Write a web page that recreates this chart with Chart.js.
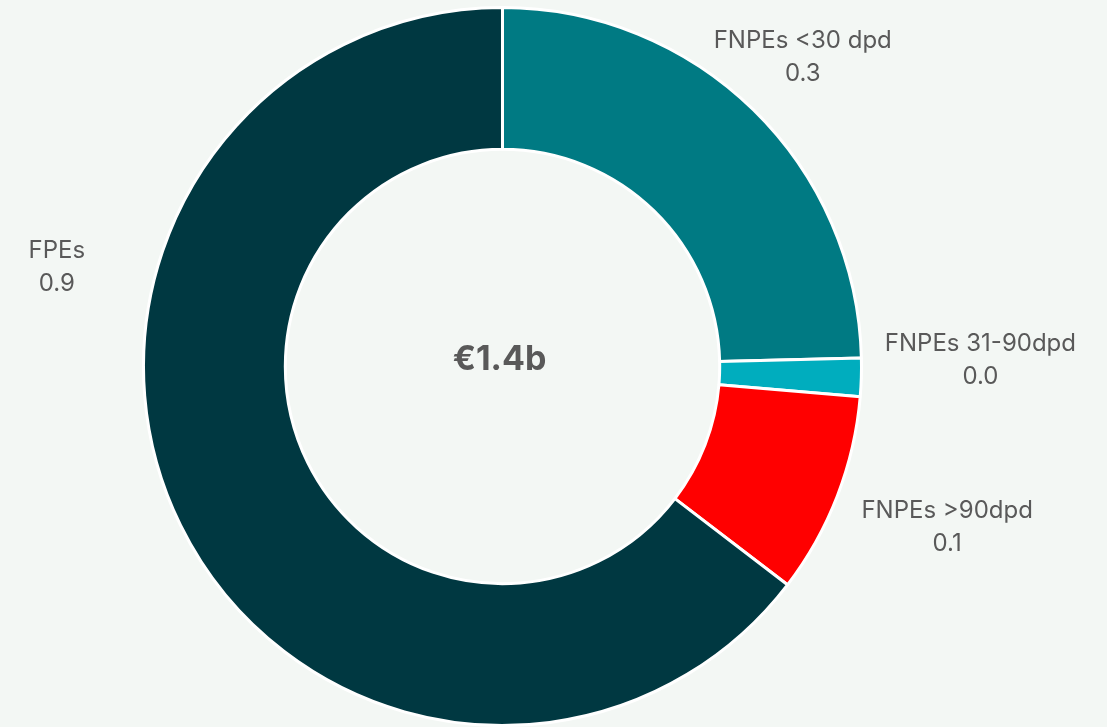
<!DOCTYPE html>
<html>
<head>
<meta charset="utf-8">
<script src="https://cdn.jsdelivr.net/npm/chart.js@4.4.1/dist/chart.umd.min.js"></script>
<style>
    html, body { margin: 0; padding: 0; background: #F3F7F4; }
    #wrap { width: 1107px; height: 727px; position: relative; }
</style>
</head>
<body>
<div id="wrap"><canvas id="exposureChart"></canvas></div>
<script>
// Exposure split (EUR bn)
const categories = ['FNPEs <30 dpd', 'FNPEs 31-90dpd', 'FNPEs >90dpd', 'FPEs'];
const amounts = [0.345, 0.024, 0.127, 0.905];
const sliceColors = ['#007A83', '#00ADBE', '#FF0000', '#003841'];

// where each outside label sits: angle (deg, clockwise from top) and distance from centre
const labelPlacement = [
    { angle: 43.9, dist: 433 },
    { angle: 88.9, dist: 478 },
    { angle: 109.6, dist: 472 },
    { angle: 282.8, dist: 457 }
];

const total = amounts.reduce((a, b) => a + b, 0);

const outsideLabels = {
    id: 'outsideLabels',
    afterDraw(chart) {
        const ctx = chart.ctx;
        const arcs = chart.getDatasetMeta(0).data;
        const cx = arcs[0].x, cy = arcs[0].y;

        ctx.save();
        ctx.fillStyle = '#595959';
        ctx.textAlign = 'center';
        ctx.textBaseline = 'middle';
        ctx.font = '24px Inter, "Open Sans", sans-serif';

        categories.forEach((name, i) => {
            const p = labelPlacement[i];
            const a = p.angle * Math.PI / 180;
            const x = cx + Math.sin(a) * p.dist;
            const y = cy - Math.cos(a) * p.dist;
            ctx.fillText(name, x, y - 14);
            ctx.fillText(amounts[i].toFixed(1), x, y + 19);
        });

        // total in the hole
        ctx.font = 'bold 34px Inter, "Open Sans", sans-serif';
        ctx.fillText('€' + total.toFixed(1) + 'b', cx - 3, cy - 7);
        ctx.restore();
    }
};

new Chart(document.getElementById('exposureChart'), {
    type: 'doughnut',
    data: {
        labels: categories,
        datasets: [{
            data: amounts,
            backgroundColor: sliceColors,
            borderColor: '#FFFFFF',
            borderWidth: 3
        }]
    },
    options: {
        responsive: true,
        maintainAspectRatio: false,
        animation: false,
        cutout: '60.5%',
        layout: { padding: { top: 6, bottom: -4, left: 0, right: 102 } },
        plugins: {
            legend: { display: false },
            tooltip: { enabled: false }
        }
    },
    plugins: [outsideLabels]
});
</script>
</body>
</html>
